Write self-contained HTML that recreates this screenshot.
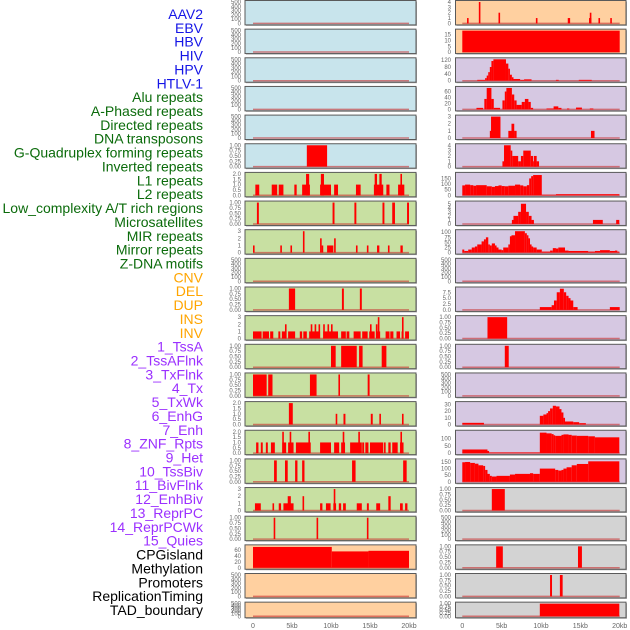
<!DOCTYPE html>
<html><head><meta charset="utf-8"><style>
html,body{margin:0;padding:0;background:#fff;}
svg{display:block;}
</style></head><body>
<svg id="chart" width="630" height="630" viewBox="0 0 630 630" xmlns="http://www.w3.org/2000/svg" font-family="Liberation Sans, sans-serif"></svg>
<script>
// ---------- labels ----------
const labelNames = ["AAV2","EBV","HBV","HIV","HPV","HTLV-1","Alu repeats","A-Phased repeats","Directed repeats","DNA transposons","G-Quadruplex forming repeats","Inverted repeats","L1 repeats","L2 repeats","Low_complexity A/T rich regions","Microsatellites","MIR repeats","Mirror repeats","Z-DNA motifs","CNV","DEL","DUP","INS","INV","1_TssA","2_TssAFlnk","3_TxFlnk","4_Tx","5_TxWk","6_EnhG","7_Enh","8_ZNF_Rpts","9_Het","10_TssBiv","11_BivFlnk","12_EnhBiv","13_ReprPC","14_ReprPCWk","15_Quies","CPGisland","Methylation","Promoters","ReplicationTiming","TAD_boundary"];
const labelGroups = [6,13,5,15,5];
const groupColors = ["#1515e6","#0b6b0b","#ffa500","#9b30ff","#000000"];

// ---------- axis config ----------
const xTickLabels = ["0","5kb","10kb","15kb","20kb"];
const xTickValues = [0,5,10,15,20];
const leftBg = ["#c8e4ec","#c8e4ec","#c8e4ec","#c8e4ec","#c8e4ec","#c8e4ec","#c8e0a2","#c8e0a2","#c8e0a2","#c8e0a2","#c8e0a2","#c8e0a2","#c8e0a2","#c8e0a2","#c8e0a2","#c8e0a2","#c8e0a2","#c8e0a2","#c8e0a2","#ffd0a0","#ffd0a0","#ffd0a0"];
const rightBg = ["#ffd0a0","#ffd0a0","#d6c8e2","#d6c8e2","#d6c8e2","#d6c8e2","#d6c8e2","#d6c8e2","#d6c8e2","#d6c8e2","#d6c8e2","#d6c8e2","#d6c8e2","#d6c8e2","#d6c8e2","#d6c8e2","#d6c8e2","#d3d3d3","#d3d3d3","#d3d3d3","#d3d3d3","#d3d3d3"];
const T500 = ["0","100","200","300","400","500"];
const T1 = ["0.00","0.25","0.50","0.75","1.00"];
const T2 = ["0.0","0.5","1.0","1.5","2.0"];
const T3 = ["0","1","2","3"];
const leftTicks = [T500,T500,T500,T500,T500,T1,T2,T1,T3,T500,T1,T3,T1,T1,T2,T2,T1,T3,T1,["0","20","40","60"],T500,T500];
const leftMax = [500,500,500,500,500,1,2,1,3,500,1,3,1,1,2,2,1,3,1,72,500,500];
const rightTicks = [["0","1","2","3","4"],["0","5","10","15"],["0","40","80","120"],["0","20","40","60"],T3,["0","1","2","3","4"],["0","50","100","150"],["0","1","2","3","4","5"],["0","25","50","75","100"],T500,["0.0","2.5","5.0","7.5"],T1,T1,T500,["0","10","20","30"],["0","50","100"],["0","50","100","150"],T1,T500,T1,T1,T1];
const rightMax = [4,18.5,125,72,3,4,190,5.3,105,500,9.1,1,1,500,32,146,162,1,500,1,1,1];

// ---------- data: [startKb, endKb, value] ----------
const seriesL06 = [[6.9,9.5,1]];
const seriesL07 = [[0.3,0.8,1],[2.4,3.1,1],[3.3,3.9,1],[5.3,5.6,1],[6.3,7.3,1],[6.8,7.2,2],[8.6,10,1],[8.7,9.1,2],[10.4,10.9,1],[13.2,13.8,1],[15.5,16.7,1],[15.6,15.9,2],[16.2,16.5,2],[17.1,17.5,1],[18.6,19.4,1],[18.9,19.1,2]];
const seriesL08 = [[0.5,0.75,1],[10.2,10.45,1],[13.0,13.25,1],[16.6,16.85,1],[17.85,18.2,1],[19.75,20,1]];
const seriesL09 = [[0,0.2,1],[3.5,3.7,1],[4.8,5.0,1],[6.4,6.6,3],[8.6,8.8,2],[8.8,8.95,1],[9.5,10.3,1],[10.4,10.6,2],[13.2,13.4,1],[14.6,14.8,1],[15.9,16.2,1],[17.3,17.5,1],[18.9,19.2,1]];
const seriesL11 = [[4.6,5.4,1],[11.4,11.65,1],[13.7,13.95,1]];
const seriesL12 = [[0,1.1,1],[1.24,2.05,1],[2.2,2.6,1],[3.25,3.5,1],[3.7,4.3,1],[4.5,5.4,1],[6,6.3,1],[6.45,6.9,1],[7.2,8.6,1],[9,10.9,1],[11.3,11.9,1],[12,12.35,1],[12.9,13.8,1],[14,14.7,1],[14.9,15.6,1],[15.8,16.3,1],[17,17.5,1],[17.6,18,1],[18.4,18.85,1],[19.05,19.3,1],[19.5,20,1],[4.1,4.3,2],[7.4,7.6,2],[7.9,8.1,2],[8.4,8.6,2],[9.0,9.2,2],[9.55,9.75,2],[10.0,10.2,2],[15.0,15.2,2],[15.75,15.95,2],[16.0,16.2,3],[19.1,19.3,3]];
const seriesL13 = [[10,10.6,1],[11.3,13.3,1],[13.6,14.05,1],[16.5,17.1,1]];
const seriesL14 = [[0,1.75,1],[1.95,2.5,1],[7.3,8.15,1],[10.95,11.15,1],[14.7,14.95,1]];
const seriesL15 = [[4.6,5.1,2],[10.6,10.8,1],[11.6,11.85,1],[15.1,15.35,1],[16.2,16.4,1],[19.1,19.3,1]];
const seriesL16 = [[0.4,0.7,1],[1,1.25,1],[1.65,1.9,1],[2.3,2.8,1],[3.75,4.25,1],[4.5,5.2,1],[5.5,7.4,1],[8.6,10,1],[10.4,11.05,1],[11.3,11.8,1],[12.45,13.95,1],[14,14.25,1],[14.4,14.8,1],[15,16.7,1],[16.8,17,1],[17.35,17.65,1],[17.85,18.55,1],[18.85,19.3,1],[3.75,3.95,2],[4.7,4.9,2],[7.1,7.3,2],[11.5,11.7,2],[13.5,13.7,2],[18.9,19.1,2]];
const seriesL17 = [[2.7,3.05,1],[4.1,4.45,1],[5.4,5.7,1],[6.3,6.6,1],[12.7,13.15,1],[19.25,19.7,1]];
const seriesL18 = [[0.25,1,1],[2.5,2.7,1],[3.3,3.6,1],[3.9,5.2,1],[4.45,4.85,2],[6.35,6.55,2],[8.6,8.9,1],[9.35,9.95,1],[10.3,10.65,1],[10.35,10.55,3],[11,11.3,1],[11.55,11.9,1],[13.3,13.95,1],[14.6,14.85,1],[15.8,16.3,1],[17.35,17.65,2],[18.85,19.2,1],[19.5,19.8,1]];
const seriesL19 = [[2.65,2.85,1],[8.15,8.35,1],[14.6,14.8,1]];
const seriesL20 = [[0,10.1,70],[10.1,14.8,55],[14.8,20,57]];
const seriesR01 = [[0.6,0.8,1],[2.1,2.3,4],[4.6,4.8,2],[9.35,9.55,1],[13.4,13.7,1],[16.1,16.4,1],[16.2,16.35,2],[17.3,17.5,1],[18.8,19.0,1]];
const seriesR02 = [[0,20,18.5]];
const seriesR03 = [[1.9,2.9,5],[2.9,3.1,15],[3.1,3.3,30],[3.3,3.5,50],[3.5,3.7,80],[3.7,3.95,115],[3.95,5.55,125],[5.55,5.85,100],[5.85,6.05,70],[6.05,6.3,35],[6.3,6.5,20],[6.5,7.35,10],[7.35,7.85,5],[7.85,8.8,8],[11.9,12.25,5],[14.8,16.45,5]];
const seriesR04 = [[1.8,2.65,5],[2.8,3.1,35],[3.1,3.7,72],[3.7,4.0,35],[4.0,4.8,5],[5.1,5.4,30],[5.4,5.6,60],[5.6,6.3,72],[6.3,6.6,50],[6.6,6.9,30],[6.9,7.55,15],[7.55,7.95,25],[7.95,8.4,35],[8.4,8.7,25],[8.7,9.0,5],[10.7,11.6,3],[11.6,12.2,10],[12.2,12.6,5],[13.3,13.6,3],[14.45,15.2,6],[16.2,16.65,3]];
const seriesR05 = [[3.5,3.65,1],[3.65,4.85,3],[5.85,6.6,1],[6.25,6.6,2],[6.6,6.9,1],[16.35,16.8,1]];
const seriesR06 = [[5.1,5.3,1],[5.3,6.15,4],[6.15,6.35,3],[6.35,7.1,2],[7.1,7.45,1],[7.45,7.75,2],[7.75,8.7,3],[8.7,9.0,2],[9.0,9.45,1],[9.1,9.45,2],[9.45,9.75,1]];
const seriesR07 = [[0,0.35,88],[0.35,1,95],[1,1.4,90],[1.4,1.75,85],[1.75,3.1,90],[3.1,3.75,80],[3.75,4.15,75],[4.15,4.6,82],[4.6,5.0,88],[5.0,5.4,82],[5.4,5.85,80],[5.85,6.7,85],[6.7,7.35,95],[7.35,7.75,88],[7.75,8.2,80],[8.2,8.5,90],[8.5,8.75,150],[8.75,9.0,170],[9.0,10.1,180],[10.1,11.9,5],[11.9,19.95,10]];
const seriesR08 = [[6.3,6.5,1],[6.5,7.1,2],[7.1,7.45,3],[7.45,8.1,5],[8.1,8.45,3],[8.45,8.8,2],[8.8,9.1,1],[16.6,17.85,1],[19.55,19.95,1]];
const seriesR09 = [[0,0.25,15],[0.25,0.75,8],[0.75,1.2,15],[1.2,1.6,25],[1.6,1.9,30],[1.9,2.45,40],[2.45,2.75,55],[2.75,3.0,65],[3.0,3.3,75],[3.3,3.5,40],[3.5,3.75,35],[3.75,4.15,45],[4.15,4.35,35],[4.35,4.6,25],[4.6,5.0,15],[5.0,5.2,12],[5.2,5.85,25],[5.85,6.05,40],[6.05,6.25,80],[6.25,6.7,85],[6.7,7.95,105],[7.95,8.2,95],[8.2,8.4,85],[8.4,8.6,70],[8.6,8.8,40],[8.8,9.0,30],[9.0,9.45,25],[9.45,10.1,15],[10.1,11.15,5],[11.15,11.5,10],[11.5,11.9,22],[11.9,12.2,20],[12.2,13.05,25],[13.05,13.5,10],[13.5,16.0,8],[16.0,16.85,5],[16.85,17.5,8],[17.5,18.75,12],[18.75,19.4,8],[19.4,19.7,10],[19.7,19.95,5]];
const seriesR11 = [[9.85,11.35,1.2],[11.35,11.65,2],[11.65,12,4],[12,12.4,7.5],[12.4,12.9,9],[12.9,13.2,7.5],[13.2,13.5,6],[13.5,13.75,5],[13.75,14.1,4],[14.1,14.65,1.2],[18.75,20,1.2]];
const seriesR12 = [[3.2,5.7,1]];
const seriesR13 = [[5.4,5.9,1]];
const seriesR15 = [[0,2.75,2.5],[9.85,10.3,13],[10.3,10.7,15],[10.7,10.9,17],[10.9,11.15,20],[11.15,11.5,24],[11.5,11.9,28],[11.9,12.35,27],[12.35,12.6,23],[12.6,12.85,18],[12.85,13.05,10],[13.05,14.1,4.5],[14.1,14.85,3.5],[14.85,15.7,2]];
const seriesR16 = [[0,3.2,25],[3.2,3.4,15],[3.4,9.85,5],[9.85,10.7,140],[10.7,11.35,135],[11.35,11.6,130],[11.6,11.8,122],[11.8,12.6,118],[12.6,12.85,125],[12.85,13.5,128],[13.5,13.9,125],[13.9,14.55,120],[14.55,16,118],[16,16.85,115],[16.85,19.95,108]];
const seriesR17 = [[0,0.35,148],[0.35,1,150],[1,1.6,143],[1.6,2.05,137],[2.05,2.65,125],[2.65,2.9,120],[2.9,3.2,90],[3.2,3.5,60],[3.5,3.75,45],[3.75,4.35,40],[4.35,6.05,45],[6.05,6.7,55],[6.7,8.6,60],[8.6,9.0,65],[9.0,9.85,60],[9.85,11.8,100],[11.8,12.2,90],[12.2,12.6,85],[12.6,12.85,90],[12.85,13.25,100],[13.25,13.9,110],[13.9,14.55,125],[14.55,16,135],[16,19.95,155]];
const seriesR18 = [[3.75,5.4,1]];
const seriesR20 = [[4.3,5.15,1],[14.7,15.2,1]];
const seriesR21 = [[11.15,11.4,1],[12.4,12.75,1]];
const seriesR22 = [[9.85,19.95,1]];
const E = [];
const leftSeries = [E,E,E,E,E,seriesL06,seriesL07,seriesL08,seriesL09,E,seriesL11,seriesL12,seriesL13,seriesL14,seriesL15,seriesL16,seriesL17,seriesL18,seriesL19,seriesL20,E,E];
const rightSeries = [seriesR01,seriesR02,seriesR03,seriesR04,seriesR05,seriesR06,seriesR07,seriesR08,seriesR09,E,seriesR11,seriesR12,seriesR13,E,seriesR15,seriesR16,seriesR17,seriesR18,E,seriesR20,seriesR21,seriesR22];

// ---------- drawing ----------
const NS = "http://www.w3.org/2000/svg";
const svg = document.getElementById("chart");
function mk(tag, attrs, parent){const e=document.createElementNS(NS,tag);for(const k in attrs)e.setAttribute(k,attrs[k]);(parent||svg).appendChild(e);return e;}

// labels
let li = 0;
labelGroups.forEach((n,g)=>{for(let j=0;j<n;j++){const t=mk("text",{x:203,y:14+li*13.86+5,"text-anchor":"end","font-size":"14",fill:groupColors[g]});
t.textContent=labelNames[li];


li++;}});

const cols = [
 {px:245,pw:171,x0:253,kb:7.8,tickX:241,bg:leftBg,ticks:leftTicks,max:leftMax,series:leftSeries,name:'left'},
 {px:455.5,pw:170.5,x0:462.3,kb:7.87,tickX:451,bg:rightBg,ticks:rightTicks,max:rightMax,series:rightSeries,name:'right'}
];
cols.forEach(c=>{
 const xs = kb=>c.x0+kb*c.kb;
 for(let i=0;i<22;i++){
  const top = i*28.65+0.5, h = (i===21)?15.6:24.4, bot = top+h;
  const g = mk("g",{});
  
  
  mk("rect",{x:c.px+1,y:top+1,width:c.pw,height:h,fill:"#a8a8a8"},g);
  mk("rect",{x:c.px,y:top,width:c.pw,height:h,fill:c.bg[i],stroke:"#5a5a5a","stroke-width":1},g);
  const y0 = bot-1.5, ph = h-3, mx = c.max[i];
  const ys = v=>y0-Math.min(v,mx)/mx*ph;
  mk("line",{x1:xs(0),x2:xs(20),y1:y0,y2:y0,stroke:"#c83030","stroke-opacity":0.6,"stroke-width":1.5},g);
  c.series[i].forEach(d=>{
   const r=mk("rect",{x:xs(d[0]),y:ys(d[2]),width:Math.max(1.6,xs(d[1])-xs(d[0])),height:y0-ys(d[2]),fill:"#ff0000"},g);
   
   
  });
  c.ticks[i].forEach(s=>{
   const t=mk("text",{x:c.tickX,y:ys(parseFloat(s))+2,"text-anchor":"end","font-size":"6",fill:"#666"},g);
   t.textContent=s;
   
   
  });
 }
 xTickValues.forEach((v,k)=>{
  const t=mk("text",{x:xs(v),y:628,"text-anchor":"middle","font-size":"7",fill:"#666"});
  t.textContent=xTickLabels[k];
  
  
 });
});
</script>
</body></html>
